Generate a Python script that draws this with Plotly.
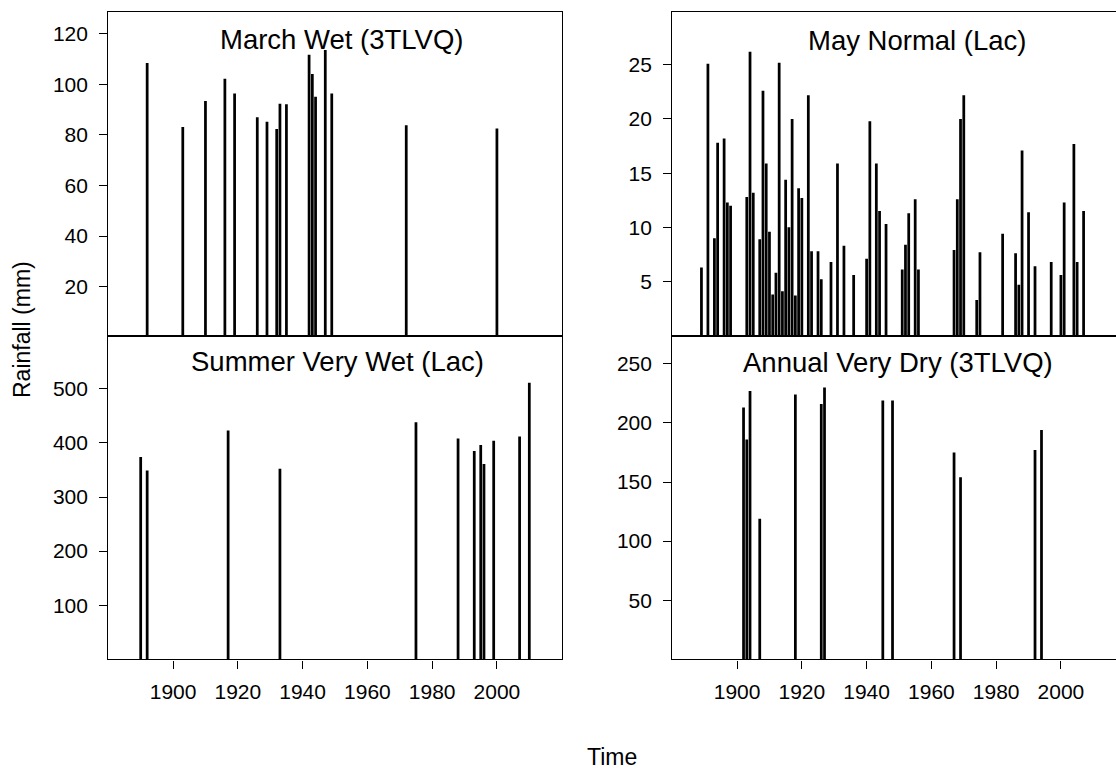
import plotly.graph_objects as go

W, H = 1116, 771

# ---------------- data ----------------
march_years = [1892, 1903, 1910, 1916, 1919, 1926, 1929, 1932, 1933, 1935,
               1942, 1943, 1944, 1947, 1949, 1972, 2000]
march_vals = [108.4, 83.1, 93.4, 102.2, 96.4, 87.0, 85.2, 82.3, 92.3, 92.1,
              111.7, 104.1, 95.1, 113.6, 96.4, 83.8, 82.5]

may_years = [1889, 1891, 1893, 1894, 1896, 1897, 1898, 1903, 1904, 1905,
             1907, 1908, 1909, 1910, 1911, 1912, 1913, 1914, 1915, 1916,
             1917, 1918, 1919, 1920, 1922, 1923, 1925, 1926, 1929, 1931,
             1933, 1936, 1940, 1941, 1943, 1944, 1946, 1951, 1952, 1953,
             1955, 1956, 1967, 1968, 1969, 1970, 1974, 1975, 1982, 1986,
             1987, 1988, 1990, 1992, 1997, 2000, 2001, 2004, 2005, 2007]
may_vals = [6.3, 25.1, 9.0, 17.8, 18.2, 12.3, 12.0, 12.8, 26.2, 13.2,
            8.9, 22.6, 15.9, 9.6, 3.8, 5.8, 25.2, 4.1, 14.4, 10.0,
            20.0, 3.7, 13.6, 12.7, 22.2, 7.8, 7.8, 5.2, 6.8, 15.9,
            8.3, 5.6, 7.1, 19.8, 15.9, 11.5, 10.3, 6.1, 8.4, 11.3,
            12.6, 6.1, 7.9, 12.6, 20.0, 22.2, 3.3, 7.7, 9.4, 7.6,
            4.7, 17.1, 11.4, 6.4, 6.8, 5.6, 12.3, 17.7, 6.8, 11.5]

summer_years = [1890, 1892, 1917, 1933, 1975, 1988, 1993, 1995, 1996, 1999, 2007, 2010]
summer_vals = [374, 349, 423, 352, 438, 408, 385, 396, 361, 404, 412, 511]

annual_years = [1902, 1903, 1904, 1907, 1918, 1926, 1927, 1945, 1948, 1967, 1969, 1992, 1994]
annual_vals = [213, 186, 227, 119, 224, 216, 230, 219, 219, 175, 154, 177, 194]

titles = ["March Wet (3TLVQ)", "May Normal (Lac)", "Summer Very Wet (Lac)", "Annual Very Dry (3TLVQ)"]
x_ticks = [1900, 1920, 1940, 1960, 1980, 2000]
march_ticks = [20, 40, 60, 80, 100, 120]
may_ticks = [5, 10, 15, 20, 25]
summer_ticks = [100, 200, 300, 400, 500]
annual_ticks = [50, 100, 150, 200, 250]

# ---------------- layout geometry (pixels) ----------------
FONT = "Liberation Sans, Arial, sans-serif"
left_x0, left_x1 = 108.3, 561.7
right_x0, right_x1 = 672.3, 1116.0
px_per_year = (left_x1 - left_x0) / 140.0
right_end_year = 1880 + (right_x1 - right_x0) / px_per_year
top_y0, mid_y, bot_y1 = 11.7, 335.7, 659.4


def px_dom_x(a, b):
    return [a / W, b / W]


def px_dom_y(top, bottom):
    return [1 - bottom / H, 1 - top / H]


LW = 1.3
fig = go.Figure()

series = [
    (march_years, march_vals, "x", "y"),
    (may_years, may_vals, "x2", "y2"),
    (summer_years, summer_vals, "x3", "y3"),
    (annual_years, annual_vals, "x4", "y4"),
]
for yrs, vals, xa, ya in series:
    fig.add_trace(go.Bar(x=yrs, y=vals, width=0.85, xaxis=xa, yaxis=ya,
                         marker=dict(color="black", line=dict(width=0)),
                         showlegend=False, hoverinfo="x+y"))


def xaxis(dom, rng, labels, mirror=True):
    d = dict(domain=dom, range=rng, showline=True, linecolor="black", linewidth=LW,
             mirror=mirror, showgrid=False, zeroline=False, fixedrange=True,
             tickfont=dict(family=FONT, size=21, color="black"))
    if labels:
        d.update(ticks="outside", ticklen=8, tickwidth=LW, tickcolor="black",
                 tickvals=x_ticks, ticktext=[str(t) for t in x_ticks], showticklabels=True,
                 ticklabelstandoff=5)
    else:
        d.update(ticks="", showticklabels=False)
    return d


def yaxis(dom, rng, tv, anchor, mirror=True):
    return dict(domain=dom, range=rng, anchor=anchor, showline=True, linecolor="black",
                linewidth=LW, mirror=mirror, showgrid=False, zeroline=False,
                ticks="outside", ticklen=8, tickwidth=LW, tickcolor="black",
                tickvals=tv, ticktext=[str(t) for t in tv], fixedrange=True,
                ticklabelstandoff=7,
                tickfont=dict(family=FONT, size=21, color="black"))


dl = px_dom_x(left_x0, left_x1)
dr = px_dom_x(right_x0, right_x1)
dt = px_dom_y(top_y0, mid_y)
db = px_dom_y(mid_y, bot_y1)

fig.update_layout(
    width=W, height=H,
    margin=dict(l=0, r=0, t=0, b=0),
    paper_bgcolor="white", plot_bgcolor="white",
    font=dict(family=FONT, color="black"),
    xaxis=dict(**xaxis(dl, [1880, 2020], False), anchor="y"),
    yaxis=yaxis(dt, [0.6, 128.7], march_ticks, "x"),
    xaxis2=dict(**xaxis(dr, [1880, right_end_year], False), anchor="y2"),
    yaxis2=yaxis(dt, [0, 29.9], may_ticks, "x2", mirror=False),
    xaxis3=dict(**xaxis(dl, [1880, 2020], True), anchor="y3"),
    yaxis3=yaxis(db, [0, 598], summer_ticks, "x3"),
    xaxis4=dict(**xaxis(dr, [1880, right_end_year], True), anchor="y4"),
    yaxis4=yaxis(db, [0, 273.7], annual_ticks, "x4", mirror=False),
)

title_pos = [(341.5, 39.8), (917.8, 40.3), (337.0, 361.5), (898.3, 362.5)]
for t, (px, py) in zip(titles, title_pos):
    fig.add_annotation(text=t, x=px / W, y=1 - py / H, xref="paper", yref="paper",
                       showarrow=False, xanchor="center", yanchor="middle",
                       font=dict(family=FONT, size=27.5, color="black"))

fig.add_annotation(text="Rainfall (mm)", x=22 / W, y=1 - 330 / H, xref="paper", yref="paper",
                   showarrow=False, textangle=-90, xanchor="center", yanchor="middle",
                   font=dict(family=FONT, size=23, color="black"))
fig.add_annotation(text="Time", x=612 / W, y=1 - 757 / H, xref="paper", yref="paper",
                   showarrow=False, xanchor="center", yanchor="middle",
                   font=dict(family=FONT, size=23, color="black"))

fig.write_html("out.html", config={"displayModeBar": False},
               post_script="document.body.style.margin='0';document.body.style.overflow='hidden';")
